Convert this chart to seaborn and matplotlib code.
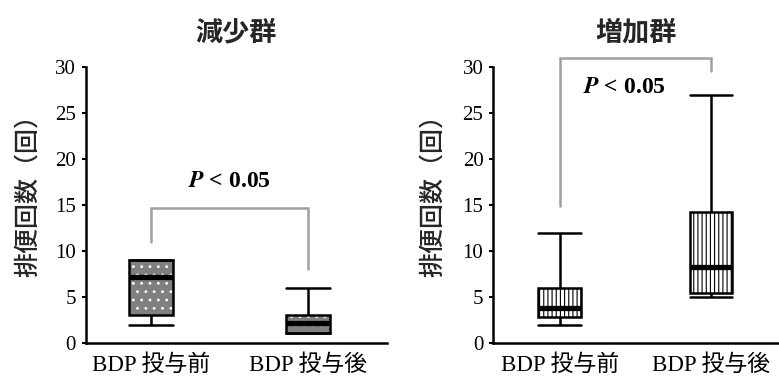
import matplotlib
matplotlib.use('Agg')
import matplotlib.pyplot as plt
import seaborn as sns
import pandas as pd
from matplotlib.patches import PathPatch

categories = ['BDP 投与前', 'BDP 投与後']
# five-number summaries: min, Q1, median, Q3, max
dec_pre = [2.0, 3.0, 7.2, 9.0, 9.0]
dec_post = [1.1, 1.1, 2.2, 3.0, 6.0]
inc_pre = [2.0, 2.8, 3.8, 6.0, 12.0]
inc_post = [5.0, 5.4, 8.3, 14.2, 27.0]
panel_titles = ['減少群', '増加群']
y_label = '排便回数（回）'
y_ticks = [0, 5, 10, 15, 20, 25, 30]
p_text = r'$\mathbfit{P}$ < 0.05'

sns.set_theme(style='ticks')
plt.rcParams['font.family'] = ['Liberation Serif', 'Noto Sans CJK JP']
plt.rcParams['mathtext.fontset'] = 'stix'
plt.rcParams['hatch.linewidth'] = 0.8

fig = plt.figure(figsize=(7.79, 3.79), dpi=100)
ax1 = fig.add_axes([0.110, 0.095, 0.387, 0.728])
ax2 = fig.add_axes([0.633, 0.095, 0.367, 0.728])


def draw_panel(ax, pre, post, face, hatch, hatchcolor, title, xlim,
               bracket_y, text_xy, label_x):
    df = pd.DataFrame({
        'cond': [categories[0]] * len(pre) + [categories[1]] * len(post),
        'count': pre + post,
    })
    sns.boxplot(data=df, x='cond', y='count', order=categories, ax=ax,
                whis=(0, 100), width=0.28, color=face, saturation=1,
                linecolor='black', linewidth=1.8, showfliers=False,
                medianprops={'linewidth': 3.8, 'color': 'black'})
    cont = ax.containers[0]
    for i, box in enumerate(cont.boxes):
        verts = box.get_path().vertices
        x0, x1 = verts[:, 0].min(), verts[:, 0].max()
        for cap in cont.caps[2 * i:2 * i + 2]:
            cap.set_xdata([x0, x1])
        box.set_hatch(hatch)
        box.set_edgecolor(hatchcolor)
        box.set_linewidth(0)
        ax.add_patch(PathPatch(box.get_path(), transform=box.get_transform(),
                               facecolor='none', edgecolor='black', lw=1.8,
                               zorder=box.get_zorder() + 0.01))
    ax.set_xlim(*xlim)
    ax.set_ylim(0, 30)
    ax.set_yticks(y_ticks)
    ax.set_xlabel('')
    ax.set_ylabel(y_label, family=['Noto Sans CJK JP'], fontsize=18,
                  fontweight='medium')
    ax.yaxis.set_label_coords(label_x, 0.555)
    ax.set_title(title, family=['Noto Sans CJK JP'], fontsize=19.5,
                 fontweight='bold', pad=19)
    sns.despine(ax=ax)
    for s in ['left', 'bottom']:
        ax.spines[s].set_linewidth(1.8)
        ax.spines[s].set_color('black')
    ax.tick_params(axis='y', length=3, width=1.5, labelsize=15, pad=4,
                   colors='black')
    ax.tick_params(axis='x', length=0, labelsize=16.5, pad=8, colors='black')
    ax.plot([0, 0, 1, 1], bracket_y, color='#a0a0a0', lw=1.8,
            clip_on=False, solid_joinstyle='miter')
    ax.text(text_xy[0], text_xy[1], p_text, fontsize=17, fontweight='bold',
            family=['Liberation Serif'], ha='center', va='center',
            color='black')


draw_panel(ax1, dec_pre, dec_post, '#808080', '..', 'white', panel_titles[0],
           (-0.414, 1.5), [11, 14.7, 14.7, 8], (0.5, 17.6), -0.150)
draw_panel(ax2, inc_pre, inc_post, 'white', '||||', 'black', panel_titles[1],
           (-0.44, 1.45), [14.9, 31, 31, 29.6], (0.43, 27.8), -0.165)

fig.savefig('out.png', dpi=100)
